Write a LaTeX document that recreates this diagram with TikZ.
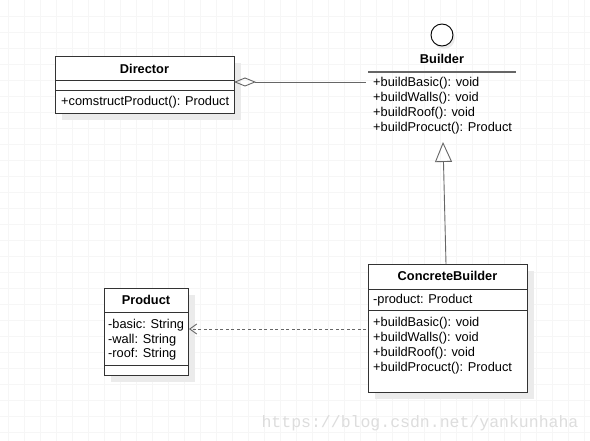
\documentclass[tikz,border=0pt]{standalone}
\usepackage{fontspec}
\setmainfont{Liberation Sans}
\newfontfamily\wmfont{Liberation Mono}
\usetikzlibrary{arrows.meta}
\definecolor{gridc}{HTML}{F6F6F6}
\definecolor{shadowc}{HTML}{EBEBEB}
\definecolor{edgec}{HTML}{333333}
\definecolor{linec}{HTML}{666666}
\definecolor{wmc}{HTML}{DDDDDD}
\tikzset{
  umlbox/.style={draw=edgec, line width=1pt, fill=white, anchor=north west, inner sep=0pt},
  shadowbox/.style={fill=shadowc, draw=none, anchor=north west, inner sep=0pt},
  divider/.style={draw=edgec, line width=1pt},
  title/.style={font=\fontsize{12.8}{15}\selectfont\bfseries, inner sep=0pt, anchor=base},
  member/.style={font=\fontsize{12.8}{15}\selectfont, inner sep=0pt, anchor=base west},
  conn/.style={draw=linec, line width=0.9pt},
}
\begin{document}
\begin{tikzpicture}[x=1pt,y=-1pt]
\useasboundingbox (0,0) rectangle (590,441);
\fill[white] (0,0) rectangle (590,441);
% grid
\foreach \gx in {8,24,...,590} \draw[gridc, line width=0.6pt] (\gx,0) -- (\gx,441);
\foreach \gy in {16,32,...,441} \draw[gridc, line width=0.6pt] (0,\gy) -- (590,\gy);

% ---------- Director ----------
\node[shadowbox, minimum width=179pt, minimum height=57pt] (dirsh) at (62,63) {};
\node[umlbox, minimum width=179pt, minimum height=57pt] (dir) at (55,56) {};
\draw[divider] (55,81) -- (234,81);
\draw[divider] (55,91) -- (234,91);
\node[title] (dirt) at (144.5,73.5) {Director};
\node[member] (dirm) at (61,106) {+comstructProduct(): Product};
\coordinate (dirport) at (234,82);

% ---------- Builder (interface) ----------
\fill[shadowc] (444,38) circle (11);
\node[circle, draw=black, line width=0.9pt, fill=white, minimum size=22pt, inner sep=0pt] (bcirc) at (442,35) {};
\node[title] (bt) at (442,63.5) {Builder};
\draw[draw=linec, line width=1.2pt] (368,72) -- (516,72);
\node[member] (bm1) at (373,86.5) {+buildBasic(): void};
\node[member] (bm2) at (373,101.5) {+buildWalls(): void};
\node[member] (bm3) at (373,116.5) {+buildRoof(): void};
\node[member] (bm4) at (373,131.5) {+buildProcuct(): Product};
\coordinate (bleft) at (366,82);
\coordinate (bbottom) at (443,142);

% ---------- ConcreteBuilder ----------
\node[shadowbox, minimum width=159pt, minimum height=128pt] (cbsh) at (375,271) {};
\node[umlbox, minimum width=159pt, minimum height=128pt] (cb) at (368,264) {};
\draw[divider] (368,290) -- (527,290);
\draw[divider] (368,311) -- (527,311);
\node[title] (cbt) at (447.5,280.5) {ConcreteBuilder};
\node[member] (cba) at (373,303.5) {-product: Product};
\node[member] (cbm1) at (373,326.5) {+buildBasic(): void};
\node[member] (cbm2) at (373,341.5) {+buildWalls(): void};
\node[member] (cbm3) at (373,356.5) {+buildRoof(): void};
\node[member] (cbm4) at (373,371.5) {+buildProcuct(): Product};
\coordinate (cbtop) at (446,264);
\coordinate (cbleft) at (366,329);

% ---------- Product ----------
\node[shadowbox, minimum width=84pt, minimum height=87pt] (psh) at (111,295) {};
\node[umlbox, minimum width=84pt, minimum height=87pt] (prod) at (104,288) {};
\draw[divider] (104,313) -- (188,313);
\draw[divider] (104,365) -- (188,365);
\node[title] (pt) at (146,304.5) {Product};
\node[member] (pa1) at (108,328.5) {-basic: String};
\node[member] (pa2) at (108,343.5) {-wall: String};
\node[member] (pa3) at (108,357.5) {-roof: String};
\coordinate (pright) at (189,329);

% ---------- connectors ----------
\draw[conn, {Diamond[open, length=22pt, width=9pt, line width=0.9pt]}-] (dirport) -- (bleft);
\draw[conn, -{Triangle[open, length=20pt, width=17pt, line width=0.9pt]}] (cbtop) -- (bbottom);
\draw[conn, dash pattern=on 3pt off 2.5pt, -{Straight Barb[length=7pt, width=10pt, line width=0.9pt]}] (cbleft) -- (pright);

% ---------- watermark ----------
\node[font=\wmfont\fontsize{16.5}{18}\selectfont, text=wmc, inner sep=0pt, anchor=base] (wm) at (420,427) {https://blog.csdn.net/yankunhaha};
\end{tikzpicture}
\end{document}
